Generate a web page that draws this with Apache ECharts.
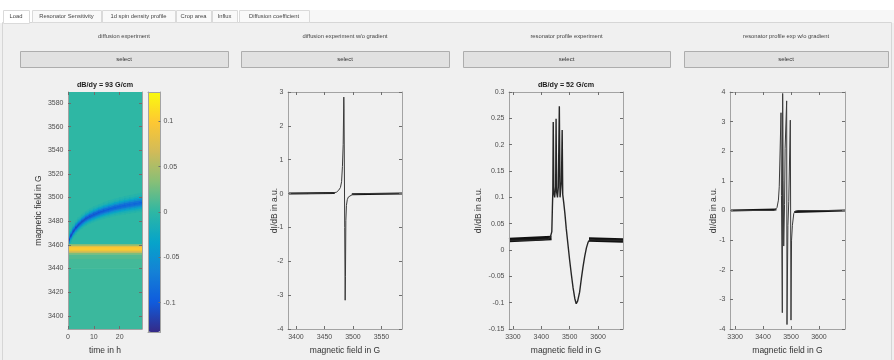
<!DOCTYPE html>
<html>
<head>
<meta charset="utf-8">
<script src="https://cdn.jsdelivr.net/npm/echarts@6/dist/echarts.min.js"></script>
<style>
  html, body { margin: 0; padding: 0; background: #f0f0f0; }
  #main { width: 894px; height: 360px; }
</style>
</head>
<body>
<div id="main"></div>
<script>
// ---------- texts ----------
var tabNames = ['Load', 'Resonator Sensitivity', '1d spin density profile', 'Crop area', 'Influx', 'Diffusion coefficient'];
var panelTitles = ['diffusion experiment', 'diffusion experiment w/o gradient', 'resonator profile experiment', 'resonator profile exp w/o gradient'];
var plotTitles = ['dB/dy = 93 G/cm', 'dB/dy = 52 G/cm'];

// ---------- heatmap: time in h vs magnetic field in G ----------
var heatTimeTicks = [0, 10, 20];
var heatFieldTicks = [3400, 3420, 3440, 3460, 3480, 3500, 3520, 3540, 3560, 3580];
var colorTicks = [-0.1, -0.05, 0, 0.05, 0.1];
// constant field zones [field from, field to, signal]
var heatZones = [
  [3388, 3440, 0.005],
  [3440, 3448, 0.008],
  [3448, 3452, 0.014],
  [3452, 3454, 0.03],
  [3454, 3590, 0.0]
];
// yellow (positive) line at ~3457 G, constant in time
var yellowRows = [
  [3453.5, 3455.0, 0.07],
  [3455.0, 3458.5, 0.1],
  [3458.5, 3459.5, 0.08],
  [3459.5, 3460.3, 0.04]
];
// blue (negative) line drifting upward with time
var blueTime  = [0, 0.5, 1, 2, 3, 4, 5.5, 7, 8.5, 10, 12, 14, 16, 18, 20, 22, 24, 26, 28.6];
var blueField = [3460, 3464.5, 3467.5, 3471.5, 3474.5, 3477, 3480, 3482.5, 3484.3, 3485.8, 3487.6, 3489.1, 3490.4, 3491.6, 3492.6, 3493.5, 3494.3, 3495, 3496];
var blueDepth = [-0.12, -0.12, -0.119, -0.117, -0.115, -0.113, -0.111, -0.109, -0.107, -0.105, -0.103, -0.101, -0.099, -0.097, -0.096, -0.094, -0.093, -0.092, -0.091];
var blueWidth = [3, 3.1, 3.2, 3.3, 3.4, 3.5, 3.6, 3.7, 3.8, 3.9, 4.0, 4.1, 4.2, 4.3, 4.4, 4.5, 4.55, 4.6, 4.7];
// cross-section of the blue line (offset in widths, relative strength)
var bandOffset = [-1.5, -1.2, -0.9, -0.6, -0.3, 0, 0.3, 0.6, 0.9, 1.2, 1.5];
var bandWeight = [0.06, 0.15, 0.32, 0.58, 0.86, 1, 0.86, 0.58, 0.32, 0.15, 0.06];

// ---------- diffusion experiment w/o gradient ----------
var field2  = [3386, 3420, 3450, 3465, 3471, 3475, 3478, 3480, 3481.5, 3482.8, 3483.9, 3484.3, 3485.5, 3486.3, 3486.8, 3487.5, 3488.5, 3490, 3492, 3495, 3500, 3520, 3586];
var signal2 = [0, 0, 0.01, 0.02, 0.04, 0.1, 0.18, 0.35, 0.8, 1.45, 2.85, 2.5, -1.0, -3.15, -2.45, -0.8, -0.35, -0.18, -0.1, -0.05, -0.02, 0, 0];
var base2Field  = [3386, 3468, null, 3498, 3586];
var base2Signal = [0, 0.02, null, -0.02, 0];
var field2Ticks = [3400, 3450, 3500, 3550];
var signal2Ticks = [-4, -3, -2, -1, 0, 1, 2, 3];

// ---------- resonator profile experiment ----------
var field3  = [3286, 3380, 3425, 3432, 3437, 3439, 3440.5, 3442, 3444, 3447, 3450.5, 3452, 3454, 3457, 3460, 3463.5, 3466, 3468, 3471, 3473.5, 3475.5, 3479, 3483, 3488, 3494, 3500, 3506, 3512, 3518, 3523, 3528, 3535, 3541, 3547, 3553, 3559, 3565, 3572, 3590, 3688];
var signal3 = [0.018, 0.019, 0.021, 0.025, 0.035, 0.08, 0.11, 0.243, 0.11, 0.1, 0.12, 0.249, 0.11, 0.1, 0.12, 0.273, 0.1, 0.097, 0.13, 0.228, 0.105, 0.09, 0.07, 0.04, 0.01, -0.02, -0.047, -0.072, -0.092, -0.102, -0.097, -0.08, -0.055, -0.032, -0.012, 0.004, 0.015, 0.02, 0.019, 0.018];
var base3Field  = [3286, 3436, null, 3568, 3688];
var base3Signal = [0.019, 0.023, null, 0.02, 0.018];
var field3Ticks = [3300, 3400, 3500, 3600];
var signal3Ticks = [-0.15, -0.1, -0.05, 0, 0.05, 0.1, 0.15, 0.2, 0.25, 0.3];

// ---------- resonator profile exp w/o gradient ----------
var field4  = [3282, 3440, 3450, 3455, 3458, 3462, 3464.3, 3466, 3469, 3470.2, 3472, 3474, 3477, 3479, 3484.5, 3485.7, 3489, 3492, 3494, 3497.6, 3500, 3502, 3505, 3510, 3515, 3525, 3693];
var signal4 = [0, 0, 0.1, 0.35, 0.8, 0.85, 3.3, 0.5, -3.45, 3.95, 1.0, -1.2, 0.2, 2.1, 3.7, -3.85, -0.5, 0.3, 1.3, 3.05, -3.7, -1.0, -0.5, -0.1, -0.02, 0, 0];
var base4Field  = [3282, 3448, null, 3512, 3693];
var base4Signal = [0, 0.03, null, -0.05, 0];
var field4Ticks = [3300, 3400, 3500, 3600];
var signal4Ticks = [-4, -3, -2, -1, 0, 1, 2, 3, 4];

var parula = ['#352a87', '#0f5cdd', '#1481d6', '#06a4ca', '#2eb7a4', '#87bf77', '#d1bb59', '#fec832', '#f9fb0e'];

// ---------- build heatmap polygons ----------
var heatMaxT = 28.6;
var heatItems = [];
heatZones.forEach(function (z) {
  heatItems.push([0, heatMaxT, z[0], z[1], z[0], z[1], z[2]]);
});
for (var i = 0; i < blueTime.length - 1; i++) {
  for (var k = 0; k < bandOffset.length; k++) {
    var a0 = blueField[i] + (bandOffset[k] - 0.15) * blueWidth[i];
    var b0 = blueField[i] + (bandOffset[k] + 0.15) * blueWidth[i];
    var a1 = blueField[i + 1] + (bandOffset[k] - 0.15) * blueWidth[i + 1];
    var b1 = blueField[i + 1] + (bandOffset[k] + 0.15) * blueWidth[i + 1];
    var v = (blueDepth[i] + blueDepth[i + 1]) / 2 * bandWeight[k];
    heatItems.push([blueTime[i], blueTime[i + 1], a0, b0, a1, b1, v]);
  }
}
yellowRows.forEach(function (r) {
  heatItems.push([0, heatMaxT, r[0], r[1], r[0], r[1], r[2]]);
});

function pairs(xs, ys) {
  return xs.map(function (x, i) { return x === null ? [null, null] : [x, ys[i]]; });
}

// ---------- axis helpers ----------
var FONT = '"Liberation Sans", Arial, sans-serif';
function axis(grid, pos, min, max, ticks, showLabel, extra) {
  var a = {
    type: 'value', gridIndex: grid, position: pos, min: min, max: max, z: 10,
    nameMoveOverlap: false,
    axisLine: { show: true, onZero: false, lineStyle: { color: '#a3a3a3', width: 1 } },
    axisTick: { show: true, inside: true, length: 3, customValues: ticks, lineStyle: { color: '#6e6e6e' } },
    axisLabel: {
      show: showLabel, customValues: ticks, color: '#4d4d4d', fontSize: 7, fontFamily: FONT, margin: 4.5,
      formatter: function (v) { return String(v); }
    },
    splitLine: { show: false },
    nameTextStyle: { color: '#333', fontSize: 8.5, fontFamily: FONT }
  };
  for (var key in extra) a[key] = extra[key];
  return a;
}
var xName = { name: 'magnetic field in G', nameLocation: 'middle', nameGap: 17 };

var grids = [
  { left: 68, top: 92, width: 74, height: 240 },
  { left: 148, top: 92, width: 12.5, height: 240 },
  { left: 288, top: 92, width: 114, height: 240, backgroundColor: '#fff', show: true, borderWidth: 0 },
  { left: 509, top: 92, width: 114, height: 240, backgroundColor: '#fff', show: true, borderWidth: 0 },
  { left: 730, top: 92, width: 115, height: 240, backgroundColor: '#fff', show: true, borderWidth: 0 }
];

var xAxes = [
  axis(0, 'bottom', 0, heatMaxT, heatTimeTicks, true, { name: 'time in h', nameLocation: 'middle', nameGap: 17 }),
  axis(0, 'top', 0, heatMaxT, heatTimeTicks, false, {}),
  axis(1, 'bottom', 0, 1, [], false, {}),
  axis(1, 'top', 0, 1, [], false, {}),
  axis(2, 'bottom', 3386, 3586, field2Ticks, true, xName),
  axis(2, 'top', 3386, 3586, field2Ticks, false, {}),
  axis(3, 'bottom', 3286, 3688, field3Ticks, true, xName),
  axis(3, 'top', 3286, 3688, field3Ticks, false, {}),
  axis(4, 'bottom', 3282, 3693, field4Ticks, true, xName),
  axis(4, 'top', 3282, 3693, field4Ticks, false, {})
];
xAxes[1].axisLine.show = false;

var yName = { name: 'dI/dB in a.u.', nameLocation: 'middle' };
var yAxes = [
  axis(0, 'left', 3388.8, 3589.3, heatFieldTicks, true, { name: 'magnetic field in G', nameLocation: 'middle', nameGap: 25 }),
  axis(0, 'right', 3388.8, 3589.3, heatFieldTicks, false, {}),
  axis(1, 'right', -0.1325, 0.1325, colorTicks, true, {}),
  axis(1, 'left', -0.1325, 0.1325, [], false, {}),
  axis(2, 'left', -4, 3, signal2Ticks, true, Object.assign({ nameGap: 9 }, yName)),
  axis(2, 'right', -4, 3, signal2Ticks, false, {}),
  axis(3, 'left', -0.15, 0.3, signal3Ticks, true, Object.assign({ nameGap: 26 }, yName)),
  axis(3, 'right', -0.15, 0.3, signal3Ticks, false, {}),
  axis(4, 'left', -4, 4, signal4Ticks, true, Object.assign({ nameGap: 12 }, yName)),
  axis(4, 'right', -4, 4, signal4Ticks, false, {})
];
yAxes[2].axisLabel.margin = 3;
yAxes[2].axisTick.length = 2;

function lineSeries(xi, data, color, width) {
  return {
    type: 'line', xAxisIndex: xi, yAxisIndex: xi, data: data, showSymbol: false, symbol: 'none',
    connectNulls: false, clip: true, animation: false, silent: true,
    lineStyle: { color: color, width: width }
  };
}

// ---------- UI chrome (tabs, panel titles, buttons) ----------
var tabLeft = [3, 32, 102, 176, 212, 239];
var tabRight = [29, 101, 175, 211, 237, 309];
var buttons = [[20, 228], [241, 449], [463, 670], [684, 888]];
var graphics = [
  { type: 'rect', shape: { x: 0, y: 0, width: 894, height: 23 }, style: { fill: '#ffffff' }, z: 0 },
  { type: 'rect', shape: { x: 310, y: 10, width: 584, height: 13 }, style: { fill: '#f7f7f7' }, z: 0 },
  { type: 'rect', shape: { x: 2.5, y: 22.5, width: 889, height: 340 }, style: { fill: '#f0f0f0', stroke: '#d6d6d6', lineWidth: 1 }, z: 0 }
];
tabNames.forEach(function (name, i) {
  graphics.push({ type: 'rect', shape: { x: tabLeft[i] + 0.5, y: 10.5, width: tabRight[i] - tabLeft[i], height: i === 0 ? 13 : 12 },
    style: { fill: i === 0 ? '#ffffff' : '#f9f9f9', stroke: '#dadada', lineWidth: 1 }, z: 1 });
  graphics.push({ type: 'text', x: (tabLeft[i] + tabRight[i]) / 2, y: 16.5, z: 2,
    style: { text: name, fill: '#444', font: '5.8px ' + FONT, textAlign: 'center', textVerticalAlign: 'middle' } });
});
buttons.forEach(function (b, i) {
  graphics.push({ type: 'text', x: (b[0] + b[1]) / 2, y: 36, z: 2,
    style: { text: panelTitles[i], fill: '#444', font: '5.8px ' + FONT, textAlign: 'center', textVerticalAlign: 'middle' } });
  graphics.push({ type: 'rect', shape: { x: b[0] + 0.5, y: 51.5, width: b[1] - b[0], height: 16 },
    style: { fill: '#e1e1e1', stroke: '#adadad', lineWidth: 1 }, z: 1 });
  graphics.push({ type: 'text', x: (b[0] + b[1]) / 2, y: 59.5, z: 2,
    style: { text: 'select', fill: '#333', font: '6px ' + FONT, textAlign: 'center', textVerticalAlign: 'middle' } });
});
graphics.push({ type: 'text', x: 105, y: 85.5, z: 2,
  style: { text: plotTitles[0], fill: '#1a1a1a', font: 'bold 7.2px ' + FONT, textAlign: 'center', textVerticalAlign: 'middle' } });
graphics.push({ type: 'text', x: 566, y: 85.5, z: 2,
  style: { text: plotTitles[1], fill: '#1a1a1a', font: 'bold 7.2px ' + FONT, textAlign: 'center', textVerticalAlign: 'middle' } });

var option = {
  backgroundColor: '#f0f0f0',
  animation: false,
  grid: grids,
  xAxis: xAxes,
  yAxis: yAxes,
  visualMap: {
    type: 'continuous', seriesIndex: 0, dimension: 6,
    min: -0.1325, max: 0.1325, calculable: false, show: true,
    left: 148, top: 92, itemWidth: 12.5, itemHeight: 240, padding: 0,
    inRange: { color: parula }, textStyle: { fontSize: 0 }
  },
  graphic: { elements: graphics },
  series: [
    {
      type: 'custom', xAxisIndex: 0, yAxisIndex: 0, clip: true, silent: true,
      encode: { x: [0, 1], y: [2, 3, 4, 5] },
      data: heatItems,
      renderItem: function (params, api) {
        var p1 = api.coord([api.value(0), api.value(2)]);
        var p2 = api.coord([api.value(1), api.value(4)]);
        var p3 = api.coord([api.value(1), api.value(5)]);
        var p4 = api.coord([api.value(0), api.value(3)]);
        var c = api.visual('color');
        return { type: 'polygon', shape: { points: [p1, p2, p3, p4] }, style: { fill: c, stroke: c, lineWidth: 0.6 } };
      }
    },
    lineSeries(4, pairs(base2Field, base2Signal), '#151515', 2),
    lineSeries(4, pairs(field2, signal2), '#3a3a3a', 1),
    lineSeries(6, pairs(base3Field, base3Signal), '#111', 4.5),
    lineSeries(6, pairs(field3, signal3), '#262626', 1.4),
    lineSeries(8, pairs(base4Field, base4Signal), '#151515', 2),
    lineSeries(8, pairs(field4, signal4), '#3a3a3a', 1)
  ]
};

var chart = echarts.init(document.getElementById('main'));
chart.setOption(option);
</script>
</body>
</html>
